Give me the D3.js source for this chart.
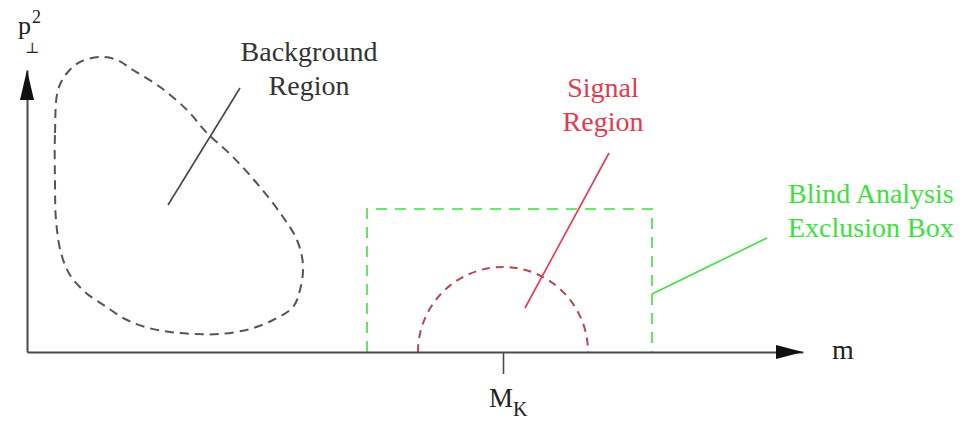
<!DOCTYPE html>
<html>
<head>
<meta charset="utf-8">
<script src="https://cdn.jsdelivr.net/npm/d3@7"></script>
<style>
  html, body { margin: 0; padding: 0; background: #fff; }
  svg { display: block; }
  text { font-family: "Liberation Serif", "DejaVu Serif", serif; }
</style>
</head>
<body>
<script>
// Schematic (m, p⊥²) plane: background region, signal region and the blind-analysis box.
const mDomain = [0, 776];
const pDomain = [0, 282];

// Closed outline of the background region, in (m, p⊥²) units
const backgroundContour = [
  [28,169],[28,219],[31,262],[40,279],[53,290],[73,295],[90,292],[106,282],
  [133,265],[160,242],[180,219],[206,195],[233,165],[256,135],[270,112],[276,87],
  [273,62],[266,45],[246,32],[223,23],[193,18],[168,18],[143,20],[118,25],
  [98,33],[78,46],[58,60],[43,77],[34,99],[29,132]
];

// Signal region: half disc around the kaon mass
const massK = 476;
const signalHalfWidth = 85;

// Blind analysis exclusion box: m range and p⊥² upper edge
const exclusionBoxM = [340, 625];
const exclusionBoxTop = 143;

// Label leader lines
const backgroundLeader = [[141,147],[213,264]];
const signalLeader = [[498,44],[582,199]];
const exclusionLeader = [[625,58],[740,114]];

// Label text and anchor points
const backgroundLabel = ["Background", "Region"];
const backgroundLabelAt = [282, 291];
const signalLabel = ["Signal", "Region"];
const signalLabelAt = [576, 255];
const exclusionLabel = ["Blind Analysis", "Exclusion Box"];
const exclusionLabelAt = [761, 149];

const W = 979, H = 424;
const svg = d3.select("body").append("svg").attr("width", W).attr("height", H);

const x = d3.scaleLinear().domain(mDomain).range([27, 803]);
const y = d3.scaleLinear().domain(pDomain).range([352, 70]);

const axisColor = "#4a4a4a";
const inkColor = "#333";
const red = "#e8374f";
const redDash = "#b84755";
const green = "#3ee040";

// Exclusion box (dashed, no bottom edge on the axis)
svg.append("path")
  .attr("d", d3.line()([
    [x(exclusionBoxM[0]), y(0)], [x(exclusionBoxM[0]), y(exclusionBoxTop)],
    [x(exclusionBoxM[1]), y(exclusionBoxTop)], [x(exclusionBoxM[1]), y(0)]
  ]))
  .attr("fill", "none").attr("stroke", green).attr("stroke-width", 1.6)
  .attr("stroke-dasharray", "11,8");

// Background region outline
svg.append("path")
  .datum(backgroundContour)
  .attr("d", d3.line().x(d => x(d[0])).y(d => y(d[1])).curve(d3.curveCatmullRomClosed.alpha(0.5)))
  .attr("fill", "none").attr("stroke", "#555").attr("stroke-width", 2)
  .attr("stroke-dasharray", "9,6");

// Signal region half disc
const r = x(massK + signalHalfWidth) - x(massK);
const arcPath = d3.path();
arcPath.moveTo(x(massK) - r, y(0));
arcPath.arc(x(massK), y(0), r, Math.PI, 2 * Math.PI);
svg.append("path")
  .attr("d", arcPath.toString())
  .attr("fill", "none").attr("stroke", redDash).attr("stroke-width", 2)
  .attr("stroke-dasharray", "8,6");

// Axes
const xAxis = d3.axisBottom(x).tickValues([massK]).tickFormat("").tickSize(22).tickSizeOuter(0);
const gx = svg.append("g").attr("transform", `translate(0,${y(0)})`).call(xAxis);
gx.select(".domain").attr("stroke", axisColor).attr("stroke-width", 2);
gx.selectAll(".tick line").attr("stroke", axisColor).attr("stroke-width", 1.6);

const yAxis = d3.axisLeft(y).tickValues([]).tickSizeOuter(0);
const gy = svg.append("g").attr("transform", `translate(${x(0)},0)`).call(yAxis);
gy.select(".domain").attr("stroke", axisColor).attr("stroke-width", 2);

// Arrow heads
const xEnd = x(mDomain[1]), yEnd = y(pDomain[1]);
svg.append("path")
  .attr("d", d3.line()([[xEnd, y(0)], [xEnd - 27, y(0) - 7], [xEnd - 27, y(0) + 7]]) + "Z")
  .attr("fill", "#111");
svg.append("path")
  .attr("d", d3.line()([[x(0), yEnd], [x(0) - 7, yEnd + 30], [x(0) + 7, yEnd + 30]]) + "Z")
  .attr("fill", "#111");

// Leader lines
function leader(pts, color) {
  svg.append("path")
    .attr("d", d3.line().x(d => x(d[0])).y(d => y(d[1]))(pts))
    .attr("fill", "none").attr("stroke", color).attr("stroke-width", 1.6);
}
leader(backgroundLeader, "#444");
leader(signalLeader, red);
leader(exclusionLeader, green);

// Labels
function label(lines, at, color, anchor) {
  const t = svg.append("text")
    .attr("x", x(at[0])).attr("y", y(at[1]))
    .attr("fill", color).attr("font-size", 28).attr("text-anchor", anchor);
  lines.forEach((s, i) => {
    t.append("tspan").attr("x", x(at[0])).attr("dy", i === 0 ? 0 : 34).text(s);
  });
}
label(backgroundLabel, backgroundLabelAt, inkColor, "middle");
label(signalLabel, signalLabelAt, red, "middle");
label(exclusionLabel, exclusionLabelAt, green, "start");

// Axis titles
svg.append("text").attr("x", 832).attr("y", 359).attr("font-size", 28)
  .attr("fill", "#222").text("m");

const mk = svg.append("text").attr("x", x(massK) - 14).attr("y", 407)
  .attr("font-size", 27).attr("fill", "#222");
mk.append("tspan").text("M");
mk.append("tspan").attr("font-size", 20).attr("dy", 9).text("K");

// p⊥²: base letter with superscript 2, subscript ⊥ set beneath it
const pt = svg.append("text").attr("x", 18).attr("y", 34)
  .attr("font-size", 26).attr("fill", "#222");
pt.append("tspan").text("p");
pt.append("tspan").attr("x", 32).attr("dy", -11).attr("font-size", 18).text("2");
svg.append("text").attr("x", 25).attr("y", 53)
  .attr("font-size", 15).attr("fill", "#222").text("⊥");
</script>
</body>
</html>
